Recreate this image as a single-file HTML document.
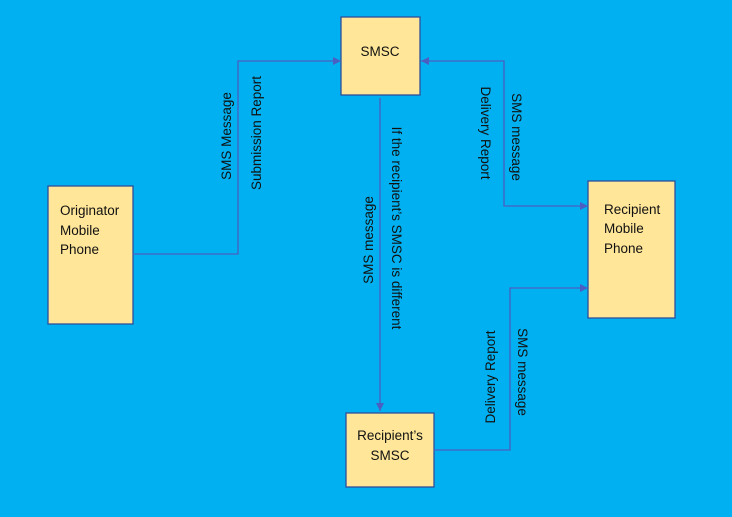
<!DOCTYPE html>
<html><head><style>
html,body{margin:0;padding:0;background:#00b0f0;}
svg{display:block;}
text{font-family:"Liberation Sans",sans-serif;font-size:13.5px;fill:#111;}
</style></head><body>
<svg width="732" height="517" xmlns="http://www.w3.org/2000/svg">
<defs>
<marker id="a" viewBox="0 0 10 10" refX="10" refY="5" markerWidth="8" markerHeight="8" orient="auto-start-reverse" markerUnits="userSpaceOnUse">
<path d="M0,0 L10,5 L0,10 z" fill="#4a5fc1"/></marker>
</defs>
<rect width="732" height="517" fill="#00b0f0"/>
<g fill="#ffe699" stroke="#2f4f9a" stroke-width="1.3">
<rect x="341" y="17" width="79" height="78"/>
<rect x="48" y="186" width="85" height="138"/>
<rect x="588" y="181" width="87" height="137"/>
<rect x="346" y="413" width="88" height="74"/>
</g>
<g fill="none" stroke="#4a5fc1" stroke-width="1.3">
<polyline points="133,254 238,254 238,61 341,61" marker-end="url(#a)"/>
<line x1="380" y1="98" x2="380" y2="411" marker-end="url(#a)"/>
<polyline points="421,61 504,61 504,206 588,206" marker-start="url(#a)" marker-end="url(#a)"/>
<polyline points="434,450 510,450 510,288 588,288" marker-end="url(#a)"/>
</g>
<text x="380" y="56" text-anchor="middle">SMSC</text>
<text x="60" y="215">Originator</text>
<text x="60" y="235">Mobile</text>
<text x="60" y="254">Phone</text>
<text x="604" y="214">Recipient</text>
<text x="604" y="233">Mobile</text>
<text x="604" y="253">Phone</text>
<text x="390" y="440" text-anchor="middle">Recipient’s</text>
<text x="390" y="460" text-anchor="middle">SMSC</text>
<text transform="translate(231,136) rotate(-90)" text-anchor="middle">SMS Message</text>
<text transform="translate(261,133) rotate(-90)" text-anchor="middle">Submission Report</text>
<text transform="translate(373,240) rotate(-90)" text-anchor="middle">SMS message</text>
<text transform="translate(392,228) rotate(90)" text-anchor="middle">If the recipient’s SMSC is different</text>
<text transform="translate(481,133) rotate(90)" text-anchor="middle">Delivery Report</text>
<text transform="translate(512,137) rotate(90)" text-anchor="middle">SMS message</text>
<text transform="translate(495,377) rotate(-90)" text-anchor="middle">Delivery Report</text>
<text transform="translate(518,372) rotate(90)" text-anchor="middle">SMS message</text>
</svg>
</body></html>
